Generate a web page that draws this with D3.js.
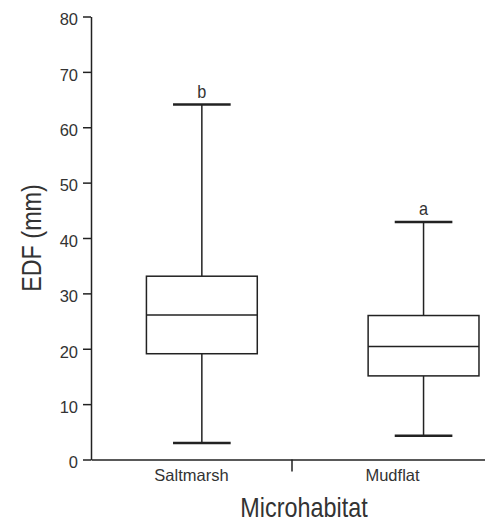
<!DOCTYPE html>
<html>
<head>
<meta charset="utf-8">
<script src="https://cdn.jsdelivr.net/npm/d3@7"></script>
<style>
  body { margin: 0; background: #fff; }
  text { font-family: "Liberation Sans", Arial, sans-serif; fill: #333; }
</style>
</head>
<body>
<svg id="chart" width="485" height="523"></svg>
<script>
// data
const categories = ["Saltmarsh", "Mudflat"];
const whiskerLow = [3.0, 4.3];
const q1 = [19.1, 15.1];
const median = [26.1, 20.4];
const q3 = [33.1, 26.0];
const whiskerHigh = [64.1, 42.9];
const letters = ["b", "a"];
const yTicks = [0, 10, 20, 30, 40, 50, 60, 70, 80];

const svg = d3.select("#chart");
const ink = "#222";
const font = "Liberation Sans, Arial, sans-serif";

const y = d3.scaleLinear().domain([0, 80]).range([459.5, 16.5]);
const xBand = d3.scaleBand().domain(categories).range([91, 493]);   // labels + separator tick
const xPos = d3.scaleLinear().domain([0.5, 2.5]).range([91, 534.4]); // box centres
const boxW = xPos(1.25) - xPos(1);   // half-unit wide boxes
const capW = xPos(1.13) - xPos(1);

// squeeze a text horizontally so it looks like a condensed face
function condense(sel, factor) {
    sel.each(function () {
        const w = this.getComputedTextLength();
        d3.select(this).attr("textLength", w * factor).attr("lengthAdjust", "spacingAndGlyphs");
    });
}

// y axis
const yAxis = svg.append("g")
    .attr("transform", "translate(91,0)")
    .call(d3.axisLeft(y).tickValues(yTicks).tickSize(8).tickPadding(5).tickSizeOuter(0));
yAxis.select(".domain").attr("stroke", ink).attr("stroke-width", 1.5);
yAxis.selectAll(".tick line").attr("stroke", ink).attr("stroke-width", 1.5);
yAxis.selectAll(".tick text")
    .attr("font-size", 16.5).attr("fill", "#333").attr("font-family", font)
    .attr("dy", "0.5em");

// x axis
const xAxis = svg.append("g")
    .attr("transform", `translate(0,${y(0)})`)
    .call(d3.axisBottom(xBand).tickSize(0).tickPadding(10).tickSizeOuter(0));
xAxis.select(".domain").attr("stroke", ink).attr("stroke-width", 1.5);
xAxis.selectAll(".tick text")
    .attr("font-size", 16.5).attr("fill", "#333").attr("font-family", font);
// separator tick between the two categories
xAxis.append("line")
    .attr("x1", xBand(categories[1])).attr("x2", xBand(categories[1]))
    .attr("y1", 0).attr("y2", 12)
    .attr("stroke", ink).attr("stroke-width", 1.5);

// boxes
const boxes = svg.append("g").selectAll("g")
    .data(categories.map((c, i) => ({
        c, i, lo: whiskerLow[i], q1: q1[i], med: median[i], q3: q3[i], hi: whiskerHigh[i], letter: letters[i]
    })))
    .join("g");

boxes.append("line")  // upper whisker
    .attr("x1", d => xPos(d.i + 1)).attr("x2", d => xPos(d.i + 1))
    .attr("y1", d => y(d.hi)).attr("y2", d => y(d.q3))
    .attr("stroke", ink).attr("stroke-width", 1.5);
boxes.append("line")  // lower whisker
    .attr("x1", d => xPos(d.i + 1)).attr("x2", d => xPos(d.i + 1))
    .attr("y1", d => y(d.q1)).attr("y2", d => y(d.lo))
    .attr("stroke", ink).attr("stroke-width", 1.5);
boxes.selectAll("line.cap")
    .data(d => [d.hi, d.lo].map(v => ({ v, i: d.i })))
    .join("line").attr("class", "cap")
    .attr("x1", d => xPos(d.i + 1) - capW).attr("x2", d => xPos(d.i + 1) + capW)
    .attr("y1", d => y(d.v)).attr("y2", d => y(d.v))
    .attr("stroke", ink).attr("stroke-width", 2.5);
boxes.append("rect")
    .attr("x", d => xPos(d.i + 1) - boxW).attr("width", 2 * boxW)
    .attr("y", d => y(d.q3)).attr("height", d => y(d.q1) - y(d.q3))
    .attr("fill", "#fff").attr("stroke", ink).attr("stroke-width", 1.5);
boxes.append("line")  // median
    .attr("x1", d => xPos(d.i + 1) - boxW).attr("x2", d => xPos(d.i + 1) + boxW)
    .attr("y1", d => y(d.med)).attr("y2", d => y(d.med))
    .attr("stroke", ink).attr("stroke-width", 1.5);
boxes.append("text")  // significance letters
    .attr("x", d => xPos(d.i + 1)).attr("y", d => y(d.hi) - 6.5)
    .attr("text-anchor", "middle").attr("font-size", 18.5)
    .text(d => d.letter)
    .call(condense, 0.88);

// axis titles
svg.append("text")
    .attr("x", 304).attr("y", 517)
    .attr("text-anchor", "middle").attr("font-size", 28.5)
    .text("Microhabitat")
    .call(condense, 0.82);
svg.append("text")
    .attr("transform", "translate(41,238) rotate(-90)")
    .attr("text-anchor", "middle").attr("font-size", 28.5)
    .text("EDF (mm)")
    .call(condense, 0.82);
</script>
</body>
</html>
